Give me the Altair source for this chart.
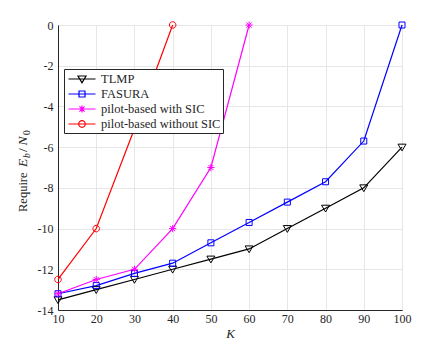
import altair as alt
import pandas as pd

# ---------------- data ----------------
K = [10, 20, 30, 40, 50, 60, 70, 80, 90, 100]
tlmp = [-13.5, -13.0, -12.5, -12.0, -11.5, -11.0, -10.0, -9.0, -8.0, -6.0]
fasura = [-13.2, -12.8, -12.2, -11.7, -10.7, -9.7, -8.7, -7.7, -5.7, 0.0]
pilot_sic = [-13.2, -12.5, -12.0, -10.0, -7.0, 0.0]
pilot_nosic = [-12.5, -10.0, -5.1, 0.0]
names = ["TLMP", "FASURA", "pilot-based with SIC", "pilot-based without SIC"]
colors = ["#000000", "#0000ff", "#ff00ff", "#ff0000"]
x_ticks = [10, 20, 30, 40, 50, 60, 70, 80, 90, 100]
y_ticks = [-14, -12, -10, -8, -6, -4, -2, 0]

rows = []
for name, vals in zip(names, [tlmp, fasura, pilot_sic, pilot_nosic]):
    for k, v in zip(K, vals):
        rows.append({"K": k, "val": v, "series": name})
df = pd.DataFrame(rows)

FONT = "Liberation Serif"
AX = "#262626"


# ---------------- marker paths ----------------
def f(v):
    return f"{v:.3f}"


def tri(s):
    return f"M{f(-1*s)},{f(-0.75*s)}L{f(1*s)},{f(-0.75*s)}L0,{f(0.95*s)}Z"


def sq(s):
    a = 0.75 * s
    return f"M{f(-a)},{f(-a)}H{f(a)}V{f(a)}H{f(-a)}Z"


def star(s):
    a = 0.9 * s
    d = 0.64 * s
    return (f"M0,{f(-a)}V{f(a)}M{f(-a)},0H{f(a)}"
            f"M{f(-d)},{f(-d)}L{f(d)},{f(d)}M{f(-d)},{f(d)}L{f(d)},{f(-d)}")


def circ(s):
    r = 0.82 * s
    return (f"M{f(r)},0A{f(r)},{f(r)} 0 1,1 {f(-r)},0"
            f"A{f(r)},{f(r)} 0 1,1 {f(r)},0Z")


makers = [tri, sq, star, circ]
data_paths = [m(1.0) for m in makers]
LS = 4.0 / 7.071  # legend symbol size 200 -> scale 7.07 px per unit
legend_paths = [f"M-1.91,0H1.91" + m(LS) for m in makers]

xenc = alt.X("K:Q", scale=alt.Scale(domain=[10, 100], nice=False),
             axis=alt.Axis(values=x_ticks, title="K", titleFontStyle="italic",
                           titleFont=FONT, titleFontSize=13, titleFontWeight="normal",
                           titleColor=AX, labelFont=FONT, labelFontSize=12,
                           labelFlush=False, labelPadding=3, titlePadding=3))
yenc = alt.Y("val:Q", scale=alt.Scale(domain=[-14, 0], nice=False),
             axis=alt.Axis(values=y_ticks, title=None, labelFont=FONT, labelFontSize=12,
                           labelFlush=False,
                           labelExpr="toString(datum.value)", labelPadding=5))


def cscale():
    return alt.Scale(domain=names, range=colors)


lines = alt.Chart(df).mark_line(strokeWidth=1.2).encode(
    x=xenc, y=yenc,
    color=alt.Color("series:N", scale=cscale(), legend=None),
)

points = alt.Chart(df).mark_point(filled=False, size=64, strokeWidth=1, opacity=1).encode(
    x=xenc, y=yenc,
    color=alt.Color("series:N", scale=cscale(), legend=None),
    shape=alt.Shape("series:N", scale=alt.Scale(domain=names, range=data_paths), legend=None),
)

leg = alt.Legend(title=None, orient="none", legendX=6, legendY=44,
                 symbolSize=200, symbolStrokeWidth=1.2, symbolOpacity=1,
                 symbolFillColor="transparent",
                 symbolOffset=8, labelOffset=11, rowPadding=0, padding=2,
                 labelFont=FONT, labelFontSize=12.5, labelColor=AX,
                 strokeColor=AX, fillColor="white")

legend_layer = alt.Chart(df).mark_point(filled=False, opacity=0).encode(
    x=xenc, y=yenc,
    color=alt.Color("series:N", scale=cscale(), legend=leg),
    shape=alt.Shape("series:N", scale=alt.Scale(domain=names, range=legend_paths), legend=leg),
)

# y title pieces: Require E_b / N_0  (rotated)
pieces = [
    ("Require", 187, 12.5, "normal", 0),
    ("E", 142, 13.5, "italic", 0),
    ("b", 133, 9.5, "italic", 3),
    ("/", 127, 13.5, "normal", 0),
    ("N", 120.5, 13.5, "italic", 0),
    ("0", 110, 9.5, "normal", 3),
]
title_layers = []
for txt, yy, fs, st, dx in pieces:
    title_layers.append(
        alt.Chart(pd.DataFrame({"t": [txt]})).mark_text(
            angle=270, align="left", baseline="alphabetic", font=FONT,
            fontSize=fs, fontStyle=st, color=AX,
        ).encode(text="t:N", x=alt.value(-31 + dx), y=alt.value(yy))
    )

chart = alt.layer(lines, points, legend_layer, *title_layers).resolve_scale(
    color="independent", shape="independent"
).properties(
    width=344, height=285,
    autosize=alt.AutoSizeParams(type="none"),
    padding={"left": 50, "top": 17, "right": 33, "bottom": 31},
).configure(
    font=FONT
).configure_view(
    stroke=AX, strokeWidth=1
).configure_legend(
    labelFont=FONT
).configure_axis(
    domainColor=AX, domainWidth=1, ticks=False,
    gridColor="#e6e6e6", gridWidth=1,
    labelFont=FONT, labelFontSize=12, labelColor=AX,
)

chart.save("out.html", embed_options={"renderer": "svg", "actions": False})
